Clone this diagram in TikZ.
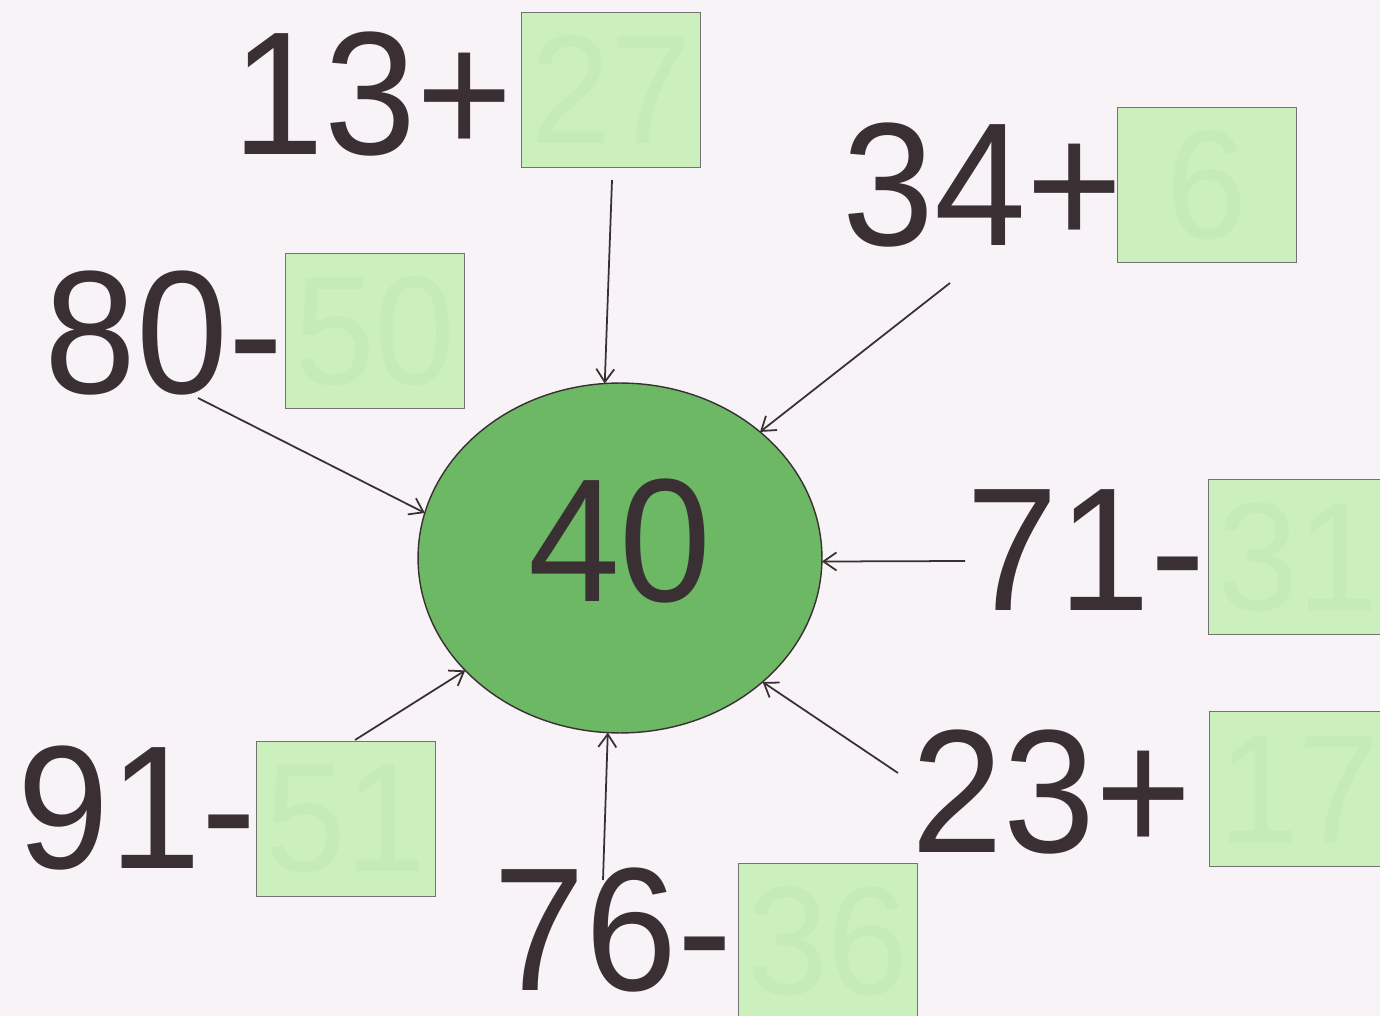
\documentclass[tikz,border=0pt]{standalone}
\usepackage{fontspec}
\setmainfont{Liberation Sans}[FakeStretch=0.94]
\usetikzlibrary{shapes.geometric,arrows.meta,positioning}
\definecolor{wsink}{RGB}{58,48,52}
\definecolor{wspaper}{RGB}{247,243,246}
\definecolor{wsgreen}{RGB}{108,184,100}
\definecolor{wsbox}{RGB}{204,239,190}
\definecolor{wsghost}{RGB}{197,236,183}

\begin{document}
\begin{tikzpicture}[
  x=0.02cm, y=-0.02cm,
  num/.style={inner sep=0pt, text=wsink, font=\fontsize{100}{100}\selectfont},
  ansbox/.style={draw=black!55, line width=0.6pt, fill=wsbox, inner sep=0pt,
                 minimum width=3.58cm, minimum height=3.1cm,
                 text=wsghost, font=\fontsize{88}{88}\selectfont},
  hub/.style={ellipse, draw=wsink, line width=0.8pt, fill=wsgreen,
              minimum width=8.08cm, minimum height=7cm, inner sep=0pt, outer sep=0pt,
              text=wsink, text depth=0.72cm, font=\fontsize{100}{100}\selectfont},
  arr/.style={-{Straight Barb[length=2.6mm,width=3.6mm]}, wsink, line width=1pt}
]
\clip (0,0) rectangle (1380,1016);
\fill[wspaper] (0,0) rectangle (1380,1016);

% centre
\node[hub] (c40) at (620,558) {40};

% answer boxes
\node[ansbox] (b13) at (611,90) {27};
\node[ansbox] (b34) at (1207,185) {6};
\node[ansbox] (b80) at (375,331) {50};
\node[ansbox] (b71) at (1298,557) {31};
\node[ansbox] (b91) at (346,819) {51};
\node[ansbox] (b76) at (828,941) {36};
\node[ansbox] (b23) at (1299,789) {17};

% expressions
\node[num, left=1.6mm of b13, yshift=-0.9mm] (e13) {13+};
\node[num, left=-1.2mm of b34] (e34) {34+};
\node[num, left=0.2mm of b80, yshift=-0.4mm] (e80) {80-};
\node[num, left=0.4mm of b71, yshift=1.4mm] (e71) {71-};
\node[num, left=-0.2mm of b91, yshift=2.2mm] (e91) {91-};
\node[num, left=1mm of b76, yshift=2.2mm] (e76) {76-};
\node[num, left=3.4mm of b23, yshift=-0.6mm] (e23) {23+};

% free ends of the arrows
\coordinate (s13) at (612,180);
\coordinate (s34) at (950,283);
\coordinate (s80) at (198,398);
\coordinate (s71) at (965,561);
\coordinate (s91) at (355,740);
\coordinate (s76) at (603,880);
\coordinate (s23) at (898,773);

\draw[arr] (s13) -- (c40.95);
\draw[arr] (s34) -- (c40.42.5);
\draw[arr] (s80) -- (c40.167);
\draw[arr] (s71) -- (c40.-1);
\draw[arr] (s91) -- (c40.216);
\draw[arr] (s76) -- (c40.266);
\draw[arr] (s23) -- (c40.319);

\end{tikzpicture}
\end{document}
